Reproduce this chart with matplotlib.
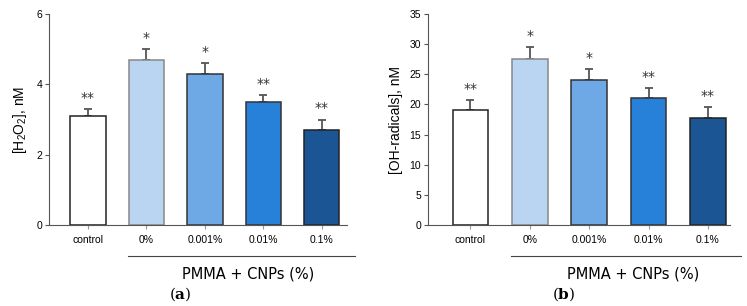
import numpy as np
import matplotlib.pyplot as plt
import matplotlib.transforms as mtransforms

plt.rcParams['font.family'] = ['Liberation Sans', 'DejaVu Sans']
plt.rcParams['mathtext.fontset'] = 'dejavuserif'

### data
groups = ['control', '0%', '0.001%', '0.01%', '0.1%']
h2o2 = [3.1, 4.7, 4.3, 3.5, 2.7]
h2o2_err = [0.2, 0.3, 0.3, 0.2, 0.3]
oh = [19.0, 27.5, 24.0, 21.0, 17.8]
oh_err = [1.7, 2.0, 1.8, 1.7, 1.7]
stars = ['**', '*', '*', '**', '**']

colors = ['#ffffff', '#b9d5f2', '#6ea9e6', '#2781d9', '#1b5593']
edges = ['#222222', '#888888', '#333333', '#333333', '#222222']

fig = plt.figure(figsize=(7.47, 3.06), dpi=100)
ax1 = fig.add_axes([0.0656, 0.2647, 0.399, 0.6895])
ax2 = fig.add_axes([0.573, 0.2647, 0.404, 0.6895])

x = np.arange(len(groups))


def panel(ax, vals, errs, ylim, yticks, ylabel, xlim, letter):
    ax.bar(x, vals, width=0.6, color=colors, edgecolor=edges, linewidth=1.1, zorder=2)
    ax.errorbar(x, vals, yerr=[np.zeros(len(vals)), errs], fmt='none',
                ecolor='#555555', elinewidth=1.3, capsize=3, capthick=1.3, zorder=1)
    for xi, v, e, s in zip(x, vals, errs, stars):
        ax.annotate(s, (xi, v + e), xytext=(0, 8), textcoords='offset points',
                    ha='center', va='center', fontsize=10, color='#333333',
                    family='DejaVu Sans')
    ax.set_ylim(*ylim)
    ax.set_yticks(yticks)
    ax.set_xlim(*xlim)
    ax.set_xticks(x)
    ax.set_xticklabels(groups, fontsize=7.5)
    ax.tick_params(axis='y', labelsize=7.5, length=3, width=0.8, color='#555555', pad=2)
    ax.tick_params(axis='x', length=3, width=0.8, color='#999999', pad=4)
    ax.spines['top'].set_visible(False)
    ax.spines['right'].set_visible(False)
    ax.spines['left'].set_color('#555555')
    ax.spines['bottom'].set_color('#555555')
    ax.set_ylabel(ylabel, fontsize=10, labelpad=5)

    trans = mtransforms.blended_transform_factory(ax.transData, ax.transAxes)
    ax.plot([1 - 0.32, len(groups) - 1 + 0.56], [-0.147, -0.147], transform=trans,
            color='#444444', lw=0.8, clip_on=False)
    ax.text((1 + len(groups) - 1) / 2 + 0.24, -0.232, 'PMMA + CNPs (%)', transform=trans,
            ha='center', va='center', fontsize=10.5, family='DejaVu Sans')
    ax.text(1.57, -0.33, r'($\mathbf{' + letter + '}$)', transform=trans,
            ha='center', va='center', fontsize=11, family='DejaVu Serif')


panel(ax1, h2o2, h2o2_err, (0, 6), [0, 2, 4, 6], r'[H$\mathregular{_2}$O$\mathregular{_2}$], nM',
      (-0.667, 4.43), 'a')
panel(ax2, oh, oh_err, (0, 35), [0, 5, 10, 15, 20, 25, 30, 35], '[OH-radicals], nM',
      (-0.715, 4.37), 'b')

plt.savefig('out.png', dpi=100)
